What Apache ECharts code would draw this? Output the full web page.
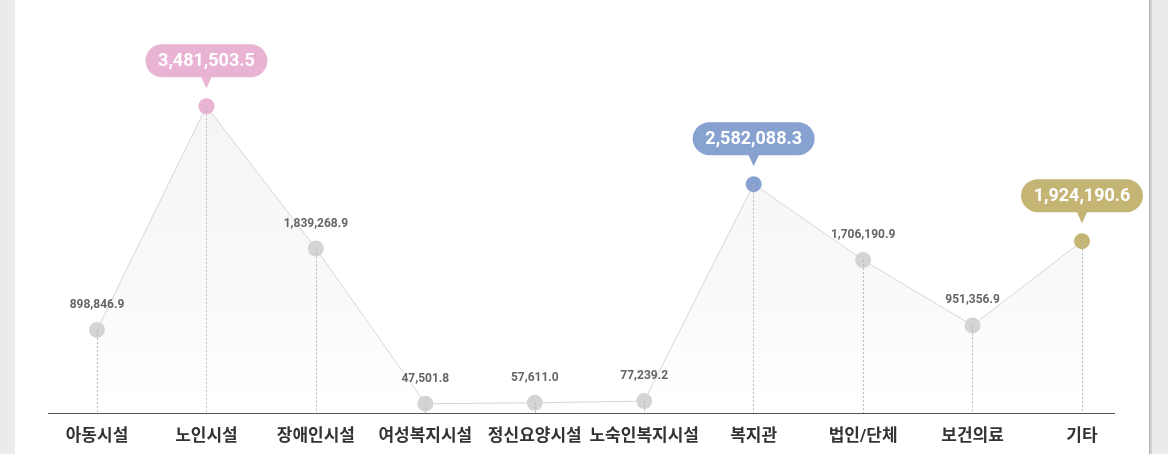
<!DOCTYPE html>
<html>
<head>
<meta charset="utf-8">
<script src="https://cdn.jsdelivr.net/npm/echarts@6/dist/echarts.min.js"></script>
<style>
html, body {
    margin: 0;
    padding: 0;
    width: 1168px;
    height: 454px;
    overflow: hidden;
    background: #ebebed;
}
.card {
    position: absolute;
    left: 15px;
    top: 0;
    width: 1134px;
    height: 454px;
    background: #fff;
    border-right: 1px solid #b3b3b5;
    box-shadow: 2px 0 0 #d2d2d4;
}
#chart {
    position: absolute;
    left: 0;
    top: 0;
    width: 1168px;
    height: 454px;
}
</style>
</head>
<body>
<div class="card"></div>
<div id="chart"></div>
<script>
// 카테고리 / 값
let categories = ['아동시설', '노인시설', '장애인시설', '여성복지시설', '정신요양시설', '노숙인복지시설', '복지관', '법인/단체', '보건의료', '기타'];
let values = [898846.9, 3481503.5, 1839268.9, 47501.8, 57611.0, 77239.2, 2582088.3, 1706190.9, 951356.9, 1924190.6];
// 강조 항목 (말풍선)
let highlightNames = ['노인시설', '복지관', '기타'];
let highlightColors = ['#e9b4d3', '#87a2d1', '#c5b575'];

let fontFamily = "Roboto, 'Noto Sans CJK KR', sans-serif";
let pointColor = '#d4d4d7';
let yMin = -60000;
let yMax = 3600000;

function fmt(v) {
    return v.toLocaleString('en-US', { minimumFractionDigits: 1, maximumFractionDigits: 1 });
}

// 말풍선 모양
let bubblePath = 'path://M16.5,0 L103.5,0 A16.5,16.5 0 0 1 103.5,33 L65,33 L60,44 L55,33 L16.5,33 A16.5,16.5 0 0 1 16.5,0 Z';

let seriesData = values.map((v, i) => {
    let hi = highlightNames.indexOf(categories[i]);
    let item = { value: v };
    if (hi > -1) {
        item.itemStyle = { color: highlightColors[hi] };
        item.label = { show: false };
    }
    return item;
});

let markPoints = [];
highlightNames.forEach((name, k) => {
    let i = categories.indexOf(name);
    markPoints.push({
        coord: [i, values[i]],
        value: values[i],
        itemStyle: { color: highlightColors[k] },
        label: { formatter: fmt(values[i]) }
    });
});

// 점선 (점 -> 축)
let dropLines = values.map((v, i) => [
    { coord: [i, v] },
    { coord: [i, yMin] }
]);

let option = {
    animation: false,
    backgroundColor: 'transparent',
    grid: {
        left: 97,
        right: 86,
        top: 96,
        bottom: 41
    },
    xAxis: {
        type: 'category',
        boundaryGap: false,
        data: categories,
        axisLine: { show: false },
        axisTick: { show: false },
        axisLabel: {
            interval: 0,
            margin: 15,
            color: '#333',
            fontSize: 17,
            fontWeight: 'bold',
            fontFamily: fontFamily
        }
    },
    yAxis: {
        type: 'value',
        show: false,
        min: yMin,
        max: yMax,
        splitLine: { show: false }
    },
    graphic: [
        {
            type: 'line',
            shape: { x1: 48, y1: 413.5, x2: 1115, y2: 413.5 },
            style: { stroke: '#555', lineWidth: 1 },
            z: 10
        }
    ],
    series: [
        {
            type: 'line',
            data: seriesData,
            symbol: 'circle',
            symbolSize: 16,
            z: 3,
            lineStyle: { color: '#d6d6d6', width: 1 },
            itemStyle: { color: pointColor },
            areaStyle: {
                origin: 'start',
                color: {
                    type: 'linear',
                    x: 0, y: 0, x2: 0, y2: 1,
                    colorStops: [
                        { offset: 0, color: '#eff1f1' },
                        { offset: 0.6, color: '#f5f6f6' },
                        { offset: 1, color: '#ffffff' }
                    ]
                }
            },
            label: {
                show: true,
                position: 'top',
                distance: 11,
                color: '#666',
                fontSize: 12,
                fontWeight: 'bold',
                fontFamily: fontFamily,
                formatter: (p) => fmt(p.value)
            },
            markLine: {
                silent: true,
                symbol: 'none',
                label: { show: false },
                z: 4,
                lineStyle: { color: '#b8b8b8', type: [2, 2], width: 1, opacity: 1 },
                data: dropLines
            },
            markPoint: {
                silent: true,
                symbol: bubblePath,
                symbolSize: [122, 44],
                symbolOffset: [0, -40],
                symbolKeepAspect: false,
                label: {
                    show: true,
                    position: 'inside',
                    offset: [0, -5],
                    color: '#fff',
                    fontSize: 18,
                    fontWeight: 'bold',
                    fontFamily: fontFamily
                },
                data: markPoints
            }
        }
    ]
};

let myChart = echarts.init(document.getElementById('chart'));
myChart.setOption(option);
</script>
</body>
</html>
